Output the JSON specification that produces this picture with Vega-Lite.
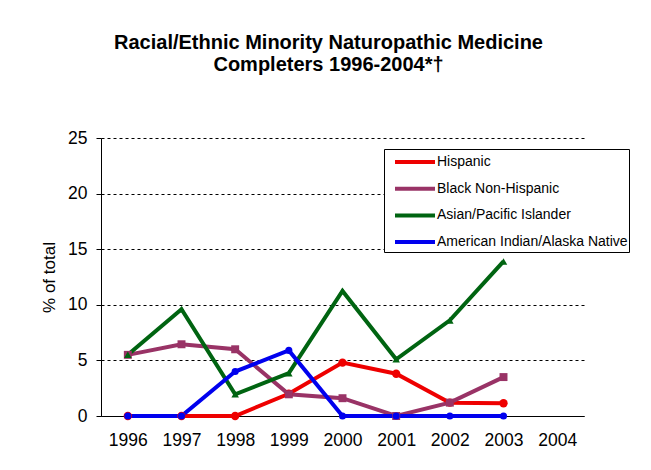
{
  "$schema": "https://vega.github.io/schema/vega-lite/v6.json",
  "width": 483,
  "height": 278,
  "autosize": {"type": "none"},
  "padding": {"left": 101, "top": 138, "right": 68, "bottom": 54},
  "background": "white",
  "title": {
    "text": ["Racial/Ethnic Minority Naturopathic Medicine", "Completers 1996-2004*†"],
    "font": "Liberation Sans",
    "fontSize": 20,
    "fontWeight": "bold",
    "color": "black",
    "anchor": "middle",
    "frame": "group",
    "dx": -14,
    "offset": 54,
    "lineHeight": 22
  },
  "data": {
    "values": [
      {"year": "1996", "series": "Hispanic", "pct": 0},
      {"year": "1997", "series": "Hispanic", "pct": 0},
      {"year": "1998", "series": "Hispanic", "pct": 0},
      {"year": "1999", "series": "Hispanic", "pct": 2.0},
      {"year": "2000", "series": "Hispanic", "pct": 4.8},
      {"year": "2001", "series": "Hispanic", "pct": 3.8},
      {"year": "2002", "series": "Hispanic", "pct": 1.2},
      {"year": "2003", "series": "Hispanic", "pct": 1.15},
      {"year": "1996", "series": "Black Non-Hispanic", "pct": 5.5},
      {"year": "1997", "series": "Black Non-Hispanic", "pct": 6.45},
      {"year": "1998", "series": "Black Non-Hispanic", "pct": 6.0},
      {"year": "1999", "series": "Black Non-Hispanic", "pct": 1.95},
      {"year": "2000", "series": "Black Non-Hispanic", "pct": 1.6},
      {"year": "2001", "series": "Black Non-Hispanic", "pct": 0},
      {"year": "2002", "series": "Black Non-Hispanic", "pct": 1.2},
      {"year": "2003", "series": "Black Non-Hispanic", "pct": 3.5},
      {"year": "1996", "series": "Asian/Pacific Islander", "pct": 5.5},
      {"year": "1997", "series": "Asian/Pacific Islander", "pct": 9.6},
      {"year": "1998", "series": "Asian/Pacific Islander", "pct": 1.95},
      {"year": "1999", "series": "Asian/Pacific Islander", "pct": 3.85},
      {"year": "2000", "series": "Asian/Pacific Islander", "pct": 11.25},
      {"year": "2001", "series": "Asian/Pacific Islander", "pct": 5.1},
      {"year": "2002", "series": "Asian/Pacific Islander", "pct": 8.6},
      {"year": "2003", "series": "Asian/Pacific Islander", "pct": 13.9},
      {"year": "1996", "series": "American Indian/Alaska Native", "pct": 0},
      {"year": "1997", "series": "American Indian/Alaska Native", "pct": 0},
      {"year": "1998", "series": "American Indian/Alaska Native", "pct": 4.0},
      {"year": "1999", "series": "American Indian/Alaska Native", "pct": 5.9},
      {"year": "2000", "series": "American Indian/Alaska Native", "pct": 0},
      {"year": "2001", "series": "American Indian/Alaska Native", "pct": 0},
      {"year": "2002", "series": "American Indian/Alaska Native", "pct": 0},
      {"year": "2003", "series": "American Indian/Alaska Native", "pct": 0}
    ]
  },
  "encoding": {
    "x": {
      "field": "year",
      "type": "ordinal",
      "scale": {"type": "point", "padding": 0.5, "domain": ["1996", "1997", "1998", "1999", "2000", "2001", "2002", "2003", "2004"]},
      "axis": {
        "title": null,
        "labelAngle": 0,
        "ticks": false,
        "labelPadding": 15,
        "labelFont": "Liberation Sans",
        "labelFontSize": 17.5,
        "labelColor": "black",
        "domainColor": "black",
        "domainWidth": 1,
        "grid": false
      }
    },
    "y": {
      "field": "pct",
      "type": "quantitative",
      "scale": {"domain": [0, 25], "nice": false},
      "axis": {
        "title": "% of total",
        "titleFont": "Liberation Sans",
        "titleFontSize": 17,
        "titleFontWeight": "normal",
        "titleColor": "black",
        "titlePadding": 9,
        "values": [0, 5, 10, 15, 20, 25],
        "labelFont": "Liberation Sans",
        "labelFontSize": 17.5,
        "labelColor": "black",
        "labelPadding": 9,
        "tickSize": 5,
        "tickColor": "black",
        "domainColor": "black",
        "grid": true,
        "gridColor": "black",
        "gridDash": [3, 3],
        "gridWidth": 1
      }
    }
  },
  "layer": [
    {
      "mark": {"type": "line", "strokeWidth": 4},
      "encoding": {
        "order": {"field": "year"},
        "color": {
          "field": "series",
          "type": "nominal",
          "scale": {
            "domain": ["Hispanic", "Black Non-Hispanic", "Asian/Pacific Islander", "American Indian/Alaska Native"],
            "range": ["#ee0000", "#993366", "#006411", "#0000ee"]
          },
          "legend": {
            "title": null,
            "orient": "none",
            "legendX": 283,
            "legendY": 11,
            "symbolType": "M-2,0H2",
            "symbolSize": 400,
            "symbolStrokeWidth": 4,
            "symbolOffset": 18,
            "labelFont": "Liberation Sans",
            "labelFontSize": 14,
            "labelColor": "black",
            "labelOffset": 10,
            "labelLimit": 400,
            "rowPadding": 6.7,
            "padding": 1,
            "strokeColor": "black",
            "fillColor": "white",
            "cornerRadius": 0
          }
        }
      }
    },
    {
      "mark": {"type": "point", "filled": true, "opacity": 1},
      "encoding": {
        "color": {
          "field": "series",
          "type": "nominal",
          "legend": null
        },
        "shape": {
          "field": "series",
          "type": "nominal",
          "scale": {
            "domain": ["American Indian/Alaska Native", "Asian/Pacific Islander", "Black Non-Hispanic", "Hispanic"],
            "range": ["circle", "triangle-up", "square", "circle"]
          },
          "legend": null
        },
        "size": {
          "field": "series",
          "type": "nominal",
          "scale": {
            "domain": ["American Indian/Alaska Native", "Asian/Pacific Islander", "Black Non-Hispanic", "Hispanic"],
            "range": [50, 70, 60, 30]
          },
          "legend": null
        }
      }
    }
  ],
  "config": {
    "view": {"stroke": null}
  }
}
